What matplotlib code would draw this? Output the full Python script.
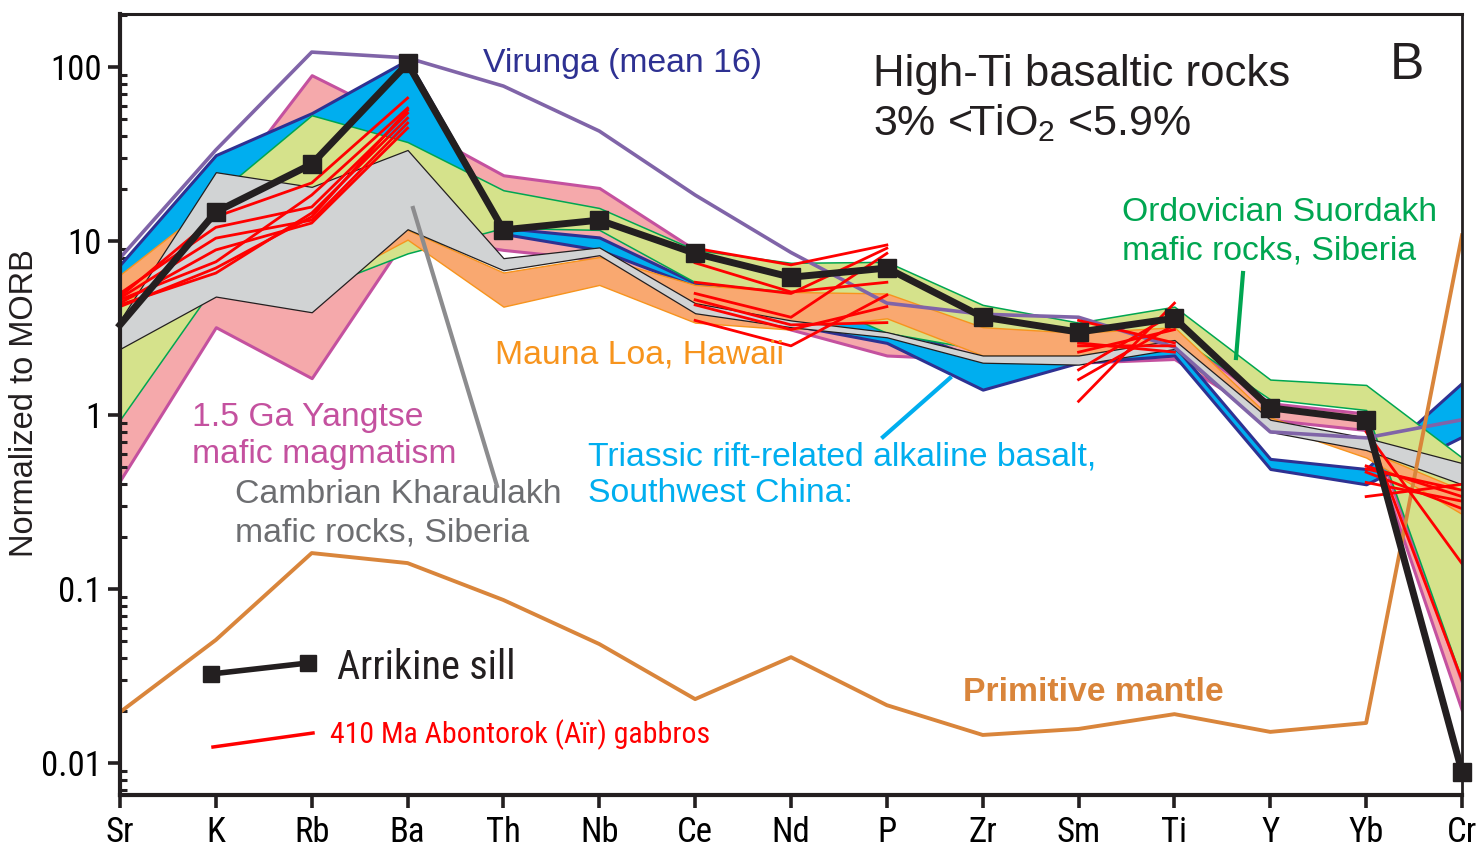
import numpy as np
import matplotlib
matplotlib.use("Agg")
import matplotlib.pyplot as plt
from matplotlib import font_manager
from matplotlib.lines import Line2D
from matplotlib.ticker import LogLocator, NullFormatter

nan = np.nan

# ── data (normalised to MORB) ───────────────────
elements = ["Sr", "K", "Rb", "Ba", "Th", "Nb", "Ce", "Nd", "P", "Zr", "Sm", "Ti", "Y", "Yb", "Cr"]

arrikine = [3.3, 14.7, 27.7, 105, 11.6, 13.2, 8.5, 6.2, 7.0, 3.66, 3.0, 3.6, 1.1, 0.94, 0.0089]
primitive_mantle = [0.0196, 0.051, 0.161, 0.141, 0.0865, 0.0483, 0.0233, 0.0406, 0.0215,
                    0.0145, 0.0157, 0.0191, 0.0151, 0.017, 10.8]
virunga = [8.0, 33.4, 122, 113, 77.8, 42.9, 18.4, 8.6, 4.4, 3.8, 3.65, 2.46, 0.80, 0.74, 0.94]

# fields: upper / lower envelopes
yangtse_hi = [4.6, 17.2, 89.9, 47.7, 23.9, 20.2, 8.9, 5.6, 3.3, 2.5, 2.5, 2.9, 1.17, 1.02, 0.029]
yangtse_lo = [0.42, 3.2, 1.63, 10.8, 8.9, 7.8, 4.6, 3.1, 2.2, 2.08, 2.0, 2.1, 0.94, 0.82, 0.020]

triassic_hi = [7.3, 31.2, 54.4, 110, 11.9, 10.5, 5.75, 4.6, 3.3, 2.08, 2.2, 2.5, 0.56, 0.49, 1.53]
triassic_lo = [5.2, 17.2, 33.4, 33.4, 11.0, 8.9, 5.5, 3.3, 2.6, 1.40, 2.0, 2.2, 0.49, 0.40, 0.75]

suordakh_hi = [5.2, 18.4, 52.9, 37.1, 19.6, 15.5, 8.9, 7.5, 7.6, 4.3, 3.4, 4.2, 1.60, 1.49, 0.57]
suordakh_lo = [0.94, 5.7, 5.2, 8.5, 11.9, 11.6, 5.8, 5.1, 2.97, 2.37, 2.5, 2.9, 1.23, 1.07, 0.030]

mauna_loa_hi = [6.4, 17.2, 17.2, 11.6, 6.6, 8.1, 5.6, 5.1, 5.0, 3.2, 2.97, 3.2, 0.97, 0.63, 0.37]
mauna_loa_lo = [4.6, 6.0, 5.2, 10.2, 4.2, 5.6, 3.4, 3.1, 3.6, 2.2, 2.2, 2.7, 0.88, 0.57, 0.27]

kharaulakh_hi = [3.5, 24.9, 20.5, 33.4, 7.98, 9.2, 4.4, 3.5, 3.0, 2.2, 2.2, 2.7, 0.94, 0.74, 0.53]
kharaulakh_lo = [2.4, 4.8, 3.9, 11.7, 6.8, 8.3, 3.85, 3.2, 2.8, 2.0, 1.95, 2.4, 0.80, 0.63, 0.40]

# 410 Ma Abontorok (Aïr) gabbros, gaps where not plotted
abontorok = [
    [4.8, 13.8, 21.6, 66.4, nan, nan, 9.1, 7.3, 9.5, nan, 3.5, 2.6, nan, 0.85, 0.030],
    [4.6, 7.6, 18.4, 58.1, nan, nan, 7.5, 5.1, 5.8, nan, 2.6, 2.3, nan, 0.80, 0.14],
    [5.0, 12.0, 15.7, 54.4, nan, nan, 5.8, 5.0, 9.1, nan, 2.3, 3.1, nan, 0.51, 0.34],
    [4.3, 6.55, 14.5, 50.9, nan, nan, 5.0, 3.65, 8.5, nan, 1.82, 3.85, nan, 0.47, 0.29],
    [4.7, 10.4, 13.2, 47.7, nan, nan, 4.3, 3.1, 4.2, nan, 1.60, 3.3, nan, 0.41, 0.32],
    [4.4, 8.9, 12.7, 44.6, nan, nan, 3.5, 2.5, 4.9, nan, 1.2, 4.4, nan, 0.34, 0.40],
    [4.2, 7.0, 13.8, 56.6, nan, nan, 4.6, 3.3, 3.4, nan, 2.5, 2.5, nan, 0.49, 0.37],
]

# ── fonts ───────────────────────────────────────
available = {f.name for f in font_manager.fontManager.ttflist}
narrow = next((n for n in ["Liberation Sans Narrow", "DejaVu Sans Condensed", "Roboto Condensed"]
               if n in available), "DejaVu Sans")
sans = "Liberation Sans" if "Liberation Sans" in available else "DejaVu Sans"
plt.rcParams["mathtext.fontset"] = "custom"
plt.rcParams["mathtext.rm"] = sans

W, H = 1481, 852


def fxy(x, y):
    """pixel position -> figure fraction"""
    return x / W, 1 - y / H


fig = plt.figure(figsize=(W / 100, H / 100), dpi=100)
ax = fig.add_axes([120 / W, 1 - 795 / H, (1462 - 120) / W, (795 - 14) / H])
x = np.arange(len(elements))

fields = [
    (yangtse_lo, yangtse_hi, "#f5a9ab", "#c4519f", 2.2),
    (triassic_lo, triassic_hi, "#00aeef", "#2e3192", 2.2),
    (suordakh_lo, suordakh_hi, "#d5e28b", "#00a651", 1.1),
    (mauna_loa_lo, mauna_loa_hi, "#f9a870", "#f7941d", 1.0),
    (kharaulakh_lo, kharaulakh_hi, "#d1d3d4", "#231f20", 0.9),
]
for z, (lo, hi, fc, ec, lw) in enumerate(fields):
    ax.fill_between(x, lo, hi, facecolor=fc, edgecolor=ec, linewidth=lw, zorder=1 + z)

ax.plot(x, virunga, color="#8064a8", lw=2.6, zorder=6)
ax.plot(x, primitive_mantle, color="#d9853b", lw=2.8, zorder=6.5)
for s in abontorok:
    ax.plot(x, s, color="#ff0000", lw=2.0, zorder=7)
ax.plot(x, arrikine, color="#231f20", lw=5, marker="s", ms=13, markevery=list(range(1, len(x))),
        zorder=8, clip_on=False)

ax.set_yscale("log")
ax.set_xlim(0, 14)
ax.set_ylim(0.00655, 202)
ax.set_xticks(x)
ax.set_xticklabels(elements, family=narrow, fontsize=25)
ax.set_yticks([0.01, 0.1, 1, 10, 100])
ax.set_yticklabels(["0.01", "0.1", "1", "10", "100"], family=narrow, fontsize=25)
ax.yaxis.set_minor_locator(LogLocator(base=10, subs=np.arange(2, 10)))
ax.yaxis.set_minor_formatter(NullFormatter())
ax.tick_params(axis="y", which="major", direction="out", length=9, width=2.6, pad=4, color="#231f20")
ax.tick_params(axis="y", which="minor", direction="in", length=5, width=2.2, color="#231f20")
ax.tick_params(axis="x", which="major", direction="out", length=9, width=2.6, pad=6, color="#231f20")
for side in ["left", "bottom"]:
    ax.spines[side].set_linewidth(3)
ax.spines["top"].set_linewidth(2.2)
ax.spines["right"].set_linewidth(2)
for sp in ax.spines.values():
    sp.set_color("#231f20")
    sp.set_zorder(9)

fig.text(*fxy(25, 403), "Normalized to MORB", rotation=90, ha="center", va="center",
         fontsize=23.5, family=sans, color="#231f20")

# ── labels ──────────────────────────────────────
def label(px, py, s, color, size=24, **kw):
    fig.text(*fxy(px, py), s, color=color, fontsize=size, family=kw.pop("family", sans),
             ha="left", va="baseline", **kw)


label(483, 72, "Virunga (mean 16)", "#2e3192", size=24.3)
label(873, 86, "High-Ti basaltic rocks", "#231f20", size=31.5)
label(873, 135, "3% <TiO$_{2}$ <5.9%", "#231f20", size=31)
label(1390, 79, "B", "#231f20", size=37)
label(1122, 221, "Ordovician Suordakh", "#00a651", size=24.3)
label(1122, 259, "mafic rocks, Siberia", "#00a651", size=24.3)
label(495, 364, "Mauna Loa, Hawaii", "#f7941d", size=24.3)
label(192, 426, "1.5 Ga Yangtse", "#c4519f", size=24.3)
label(192, 463, "mafic magmatism", "#c4519f", size=24.3)
label(235, 503, "Cambrian Kharaulakh", "#6d6e71", size=24.3)
label(235, 542, "mafic rocks, Siberia", "#6d6e71", size=24.3)
label(588, 465, "Triassic rift-related alkaline basalt,", "#00aeef", size=24.3)
label(588, 502, "Southwest China:", "#00aeef", size=24.3)
label(963, 701, "Primitive mantle", "#d9853b", size=24.3, fontweight="bold")
label(337, 679, "Arrikine sill", "#231f20", size=29, family=narrow)
label(330, 743, "410 Ma Abontorok (Aïr) gabbros", "#ff0000", size=21.5, family=narrow)

# leader lines and legend samples
for (x0, y0), (x1, y1), c in [((413, 208), (497, 486), "#8c8c8e"),
                              ((1243, 273), (1236, 358), "#00a651"),
                              ((883, 437), (950, 378), "#00aeef")]:
    (a0, b0), (a1, b1) = fxy(x0, y0), fxy(x1, y1)
    fig.add_artist(Line2D([a0, a1], [b0, b1], color=c, lw=3, zorder=10))

(a0, b0), (a1, b1) = fxy(211, 674), fxy(308, 663)
fig.add_artist(Line2D([a0, a1], [b0, b1], color="#231f20", lw=4, marker="s", ms=12, zorder=10))
(a0, b0), (a1, b1) = fxy(213, 747), fxy(313, 733)
fig.add_artist(Line2D([a0, a1], [b0, b1], color="#ff0000", lw=2.5, zorder=10))

fig.savefig("out.png", dpi=100)
